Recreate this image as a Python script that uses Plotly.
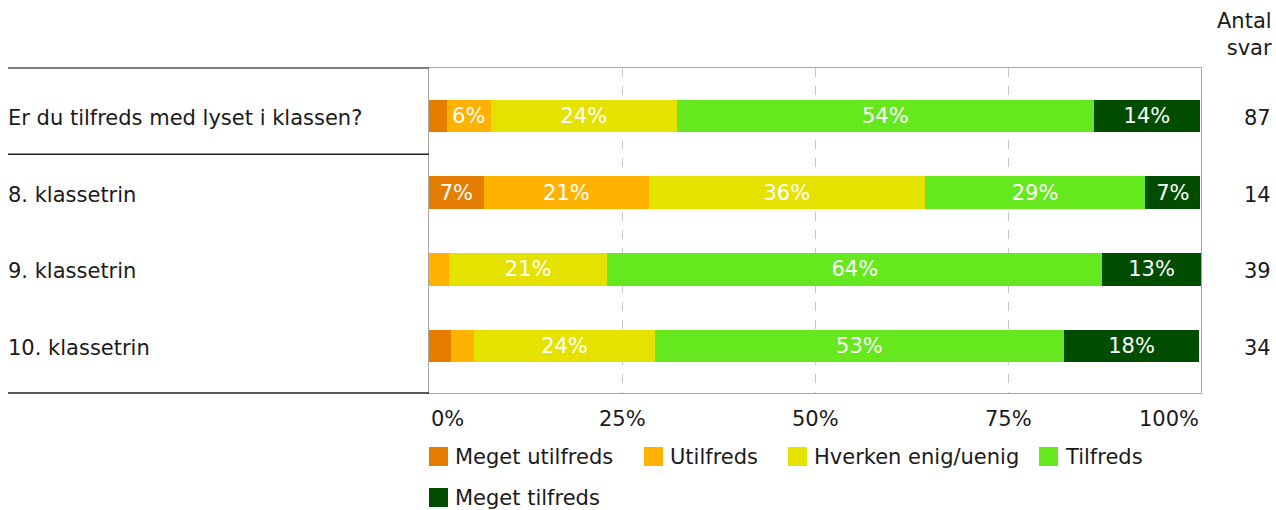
import plotly.graph_objects as go

# ---------------- data ----------------
row_labels = ["Er du tilfreds med lyset i klassen?", "8. klassetrin", "9. klassetrin", "10. klassetrin"]
antal_svar = [87, 14, 39, 34]
series_names = ["Meget utilfreds", "Utilfreds", "Hverken enig/uenig", "Tilfreds", "Meget tilfreds"]
series_colors = ["#E57E00", "#FFB300", "#E6E200", "#66E81E", "#004D00"]
meget_utilfreds = [2.3, 7.1, 0.0, 2.9]
utilfreds = [5.7, 21.4, 2.6, 2.9]
hverken = [24.1, 35.7, 20.5, 23.5]
tilfreds = [54.0, 28.6, 64.1, 52.9]
meget_tilfreds = [13.8, 7.1, 12.8, 17.6]
series_values = [meget_utilfreds, utilfreds, hverken, tilfreds, meget_tilfreds]
x_ticks = [0, 25, 50, 75, 100]
x_tick_labels = ["0%", "25%", "50%", "75%", "100%"]

# ---------------- layout constants (page pixels) ----------------
PAGE_W, PAGE_H = 1276, 510
OFF = 0  # body margin removed by post_script
W, H = PAGE_W - OFF, PAGE_H - OFF
PL, PR, PT, PB = 429, 1201, 68, 393  # plot area in page pixels
ML, MR, MT, MB = PL - OFF, PAGE_W - PR, PT - OFF, PAGE_H - PB
PW = PR - PL
PH = PB - PT
FONT = "DejaVu Sans, Verdana, sans-serif"
FS = 21
TXT = "#1a1a1a"

def px_to_paper_x(px):
    return (px - PL) / PW

def px_to_paper_y(py):
    return 1 - (py - PT) / PH

ypos = list(range(len(row_labels)))

fig = go.Figure()
for name, color, vals in zip(series_names, series_colors, series_values):
    texts = [f"{int(v + 0.5)}%" if v >= 5 else "" for v in vals]
    fig.add_trace(go.Bar(
        name=name, y=ypos, x=vals, orientation="h",
        marker=dict(color=color, line=dict(width=0)),
        width=0.43,
        text=texts, textposition="inside", insidetextanchor="middle",
        textangle=0,
        textfont=dict(color="white", size=FS, family=FONT),
        hoverinfo="skip", showlegend=False,
    ))

annotations = []
shapes = []

# row labels (left)
for i, lab in enumerate(row_labels):
    annotations.append(dict(text=lab, xref="paper", yref="y", x=px_to_paper_x(6), y=i,
                            yshift=-2,
                            xanchor="left", yanchor="middle", showarrow=False,
                            font=dict(size=FS, color=TXT, family=FONT)))
# antal svar (right)
for i, n in enumerate(antal_svar):
    annotations.append(dict(text=str(n), xref="paper", yref="y", x=px_to_paper_x(1273), y=i,
                            yshift=-2,
                            xanchor="right", yanchor="middle", showarrow=False,
                            font=dict(size=FS, color=TXT, family=FONT)))
annotations.append(dict(text="Antal<br>svar", xref="paper", yref="paper", x=px_to_paper_x(1274),
                        y=px_to_paper_y(34), xanchor="right", yanchor="middle", align="right",
                        showarrow=False, font=dict(size=FS, color=TXT, family=FONT)))

# x tick labels
for v, lab in zip(x_ticks, x_tick_labels):
    anchor = "left" if v == x_ticks[0] else ("right" if v == x_ticks[-1] else "center")
    annotations.append(dict(text=lab, xref="x", yref="paper", x=v, y=px_to_paper_y(419),
                            xanchor=anchor, yanchor="middle", showarrow=False,
                            font=dict(size=FS, color=TXT, family=FONT)))

# left separator lines
left_x0 = px_to_paper_x(8)
shapes.append(dict(type="line", xref="paper", yref="paper", x0=left_x0, x1=0, y0=1, y1=1,
                   line=dict(color="#555555", width=1.5)))
shapes.append(dict(type="line", xref="paper", yref="y", x0=left_x0, x1=0, y0=0.5, y1=0.5,
                   line=dict(color="#222222", width=1.5)))
shapes.append(dict(type="line", xref="paper", yref="paper", x0=left_x0, x1=0, y0=0, y1=0,
                   line=dict(color="#222222", width=1.5)))

# custom legend
legend_rows = [[0, 1, 2, 3], [4]]
legend_x = [[429, 644, 788, 1039], [429]]
legend_y = [456.5, 497.5]
SQ = 19
for r, items in enumerate(legend_rows):
    for k, idx in enumerate(items):
        x0 = legend_x[r][k]
        yc = legend_y[r]
        shapes.append(dict(type="rect", xref="paper", yref="paper",
                           x0=px_to_paper_x(x0), x1=px_to_paper_x(x0 + SQ),
                           y0=px_to_paper_y(yc + SQ / 2), y1=px_to_paper_y(yc - SQ / 2),
                           fillcolor=series_colors[idx], line=dict(width=0)))
        annotations.append(dict(text=series_names[idx], xref="paper", yref="paper",
                                x=px_to_paper_x(x0 + SQ + 5), y=px_to_paper_y(yc),
                                xanchor="left", yanchor="middle", showarrow=False,
                                font=dict(size=FS, color=TXT, family=FONT)))

fig.update_layout(
    width=W, height=H, barmode="stack",
    margin=dict(l=ML, r=MR, t=MT, b=MB, pad=0),
    paper_bgcolor="white", plot_bgcolor="white",
    font=dict(family=FONT, size=FS, color=TXT),
    uniformtext=dict(minsize=FS, mode="show"),
    annotations=annotations, shapes=shapes,
    showlegend=False,
)
fig.update_xaxes(range=[0, 100], tickvals=x_ticks, showticklabels=False, ticks="",
                 showgrid=True, gridcolor="#c8c8c8", griddash="dash", gridwidth=1,
                 showline=True, linecolor="#a6a6a6", linewidth=1, mirror=True, zeroline=False,
                 fixedrange=True)
fig.update_yaxes(range=[3.613, -0.626], showticklabels=False, ticks="", showgrid=False,
                 showline=True, linecolor="#a6a6a6", linewidth=1, mirror=True, zeroline=False,
                 fixedrange=True)

fig.write_html("out.html", config={"displayModeBar": False},
               post_script="document.body.style.margin='0';document.body.style.overflow='hidden';")
